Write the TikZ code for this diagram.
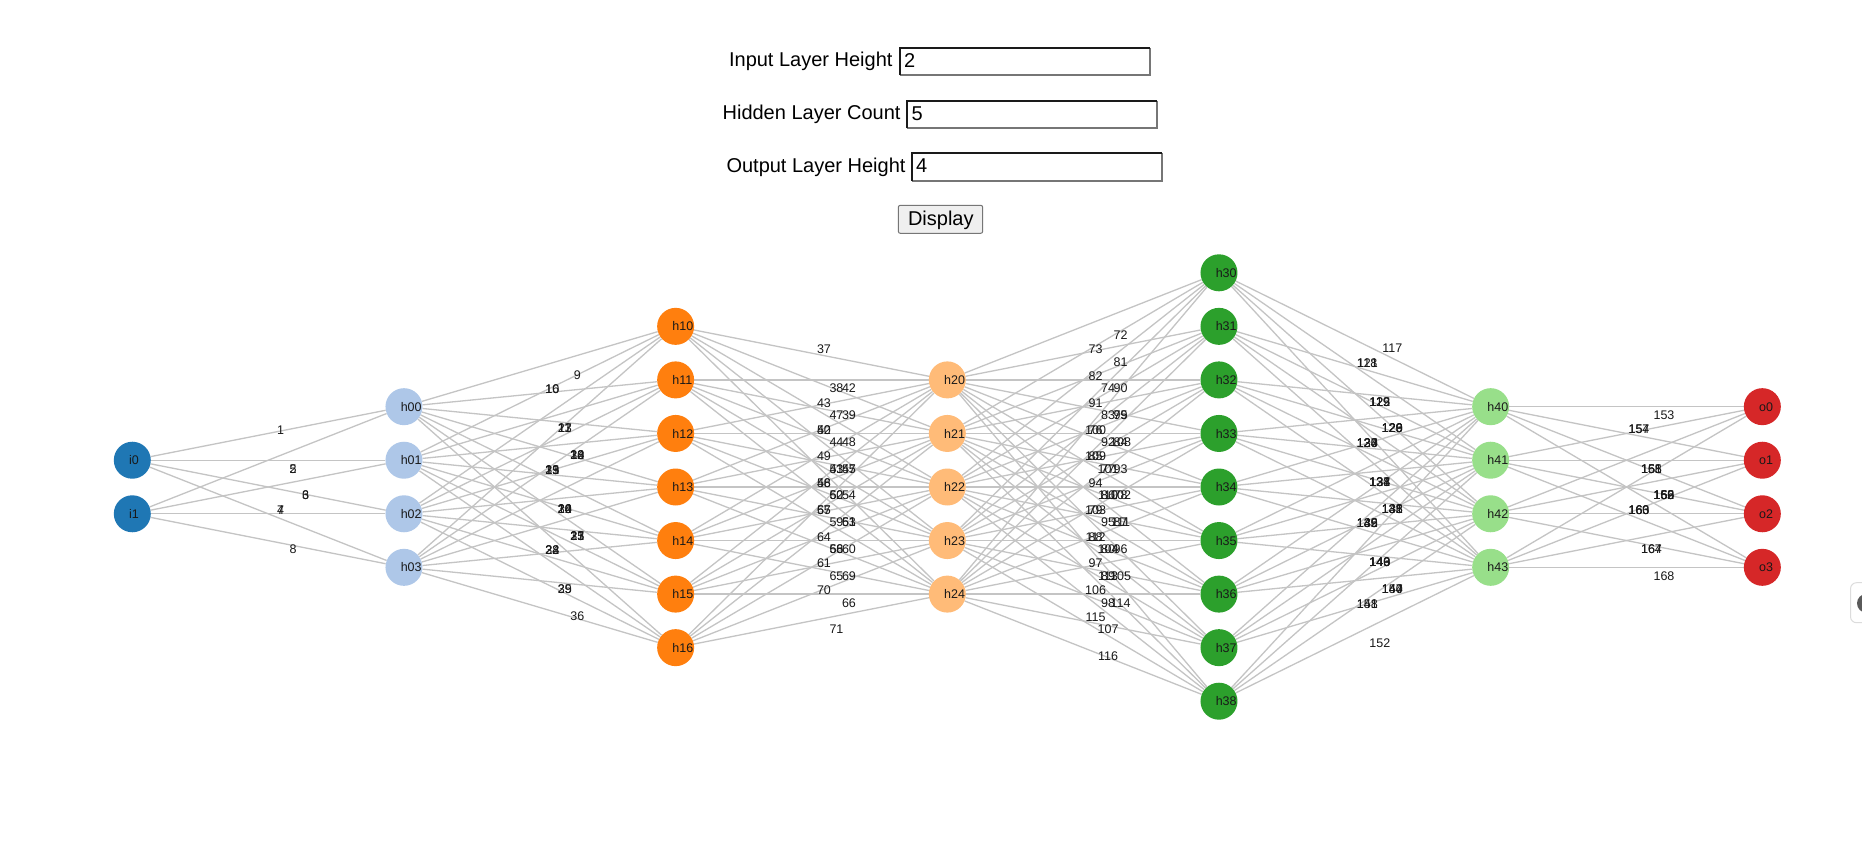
\documentclass[tikz,border=0pt]{standalone}
\usepackage{fontspec}
\setmainfont{Liberation Sans}
\usetikzlibrary{calc}
\pgfdeclarelayer{bglayer}
\pgfdeclarelayer{edgelayer}
\pgfdeclarelayer{labellayer}
\pgfsetlayers{bglayer,edgelayer,labellayer,main}
\definecolor{cI}{HTML}{1F77B4}
\definecolor{cHa}{HTML}{AEC7E8}
\definecolor{cHb}{HTML}{FF7F0E}
\definecolor{cHc}{HTML}{FFBB78}
\definecolor{cHd}{HTML}{2CA02C}
\definecolor{cHe}{HTML}{98DF8A}
\definecolor{cO}{HTML}{D62728}
\definecolor{edgegray}{HTML}{C4C4C4}
\definecolor{darkborder}{HTML}{1A1A1A}
\definecolor{lightborder}{HTML}{767676}
\definecolor{btnfill}{HTML}{EFEFEF}
\definecolor{widgetborder}{HTML}{DCDCDC}
\definecolor{widgetdot}{HTML}{5A5A5A}
\newcount\edgeidx
\tikzset{
  neuron/.style={circle, inner sep=0pt, minimum size=37pt, fill=#1, draw=none},
  nlabel/.style={anchor=base west, inner sep=0pt, font=\fontsize{12.5}{14}\selectfont, text=black!90},
  elabel/.style={anchor=center, inner sep=0pt, font=\fontsize{12.5}{14}\selectfont, text=black!90},
  link/.style={draw=edgegray, line width=1.3pt},
  uitext/.style={inner sep=0pt, font=\fontsize{20}{24}\selectfont, text=black},
  inbox/.style={fill=white, draw=none, inner sep=0pt, minimum width=251.4pt, minimum height=28.7pt},
}
\begin{document}
\begin{tikzpicture}[x=1pt,y=-1pt]
\useasboundingbox (0,0) rectangle (1862,861);
\begin{pgfonlayer}{bglayer}
  \fill[white] (0,0) rectangle (1862,861);
\end{pgfonlayer}

% ---------- form ----------
\node[uitext, anchor=base east] (lab1) at (892.7,66.7) {Input Layer Height};
\node[inbox] (box1) at (1025,61.65) {};
\draw[lightborder, line width=2pt] (box1.south west) ++(1,-1) coordinate (b1sw) -- ($(box1.south east)+(-1,-1)$) -- ($(box1.north east)+(-1,1)$);
\draw[darkborder, line width=2pt] (b1sw) -- ($(box1.north west)+(1,1)$) -- ($(box1.north east)+(-1,1)$);
\node[uitext, anchor=base west] (val1) at (904,67.7) {2};

\node[uitext, anchor=base east] (lab2) at (900.7,120) {Hidden Layer Count};
\node[inbox] (box2) at (1032,114.7) {};
\draw[lightborder, line width=2pt] (box2.south west) ++(1,-1) coordinate (b2sw) -- ($(box2.south east)+(-1,-1)$) -- ($(box2.north east)+(-1,1)$);
\draw[darkborder, line width=2pt] (b2sw) -- ($(box2.north west)+(1,1)$) -- ($(box2.north east)+(-1,1)$);
\node[uitext, anchor=base west] (val2) at (911.5,120.3) {5};

\node[uitext, anchor=base east] (lab3) at (905.7,172.3) {Output Layer Height};
\node[inbox] (box3) at (1037,167) {};
\draw[lightborder, line width=2pt] (box3.south west) ++(1,-1) coordinate (b3sw) -- ($(box3.south east)+(-1,-1)$) -- ($(box3.north east)+(-1,1)$);
\draw[darkborder, line width=2pt] (b3sw) -- ($(box3.north west)+(1,1)$) -- ($(box3.north east)+(-1,1)$);
\node[uitext, anchor=base west] (val3) at (916,172.7) {4};

\node[draw=lightborder, fill=btnfill, rounded corners=2pt, line width=1pt, minimum width=84.4pt, minimum height=28pt, inner sep=0pt] (btn) at (940.5,219.3) {};
\node[uitext, anchor=base] (btntext) at (940.8,225.5) {Display};

% ---------- neurons ----------
\foreach \k/\nm/\n/\col in {0/i/2/cI,1/h0/4/cHa,2/h1/7/cHb,3/h2/5/cHc,4/h3/9/cHd,5/h4/4/cHe,6/o/4/cO}{
  \pgfmathsetmacro\xx{132.3+271.67*\k}
  \pgfmathtruncatemacro\nmax{\n-1}
  \foreach \j in {0,...,\nmax}{
    \pgfmathsetmacro\yy{487+53.55*(\j-(\n-1)/2)}
    \node[neuron=\col] (\nm\j) at (\xx,\yy) {};
    \node[nlabel] (t\nm\j) at (\xx-3.4,\yy+4.6) {\nm\j};
  }
}

% ---------- links and their labels ----------
\global\edgeidx=0
\foreach \srcname/\srccount/\dstname/\dstcount in {i/2/h0/4, h0/4/h1/7, h1/7/h2/5, h2/5/h3/9, h3/9/h4/4, h4/4/o/4}{
  \pgfmathtruncatemacro\amax{\srccount-1}
  \pgfmathtruncatemacro\bmax{\dstcount-1}
  \foreach \a in {0,...,\amax}{
    \foreach \b in {0,...,\bmax}{
      \global\advance\edgeidx by 1
      \pgfmathtruncatemacro\ltype{mod(\the\edgeidx-1,3)+1}
      \pgfmathsetmacro\ldx{12.5*\ltype}
      \pgfmathsetmacro\ldy{ifthenelse(\ltype==1,-3.7,8.6)}
      \begin{pgfonlayer}{edgelayer}
        \draw[link] (\srcname\a) -- (\dstname\b);
      \end{pgfonlayer}
      \begin{pgfonlayer}{labellayer}
        \node[elabel] (e\the\edgeidx) at ($(\srcname\a)!0.5!(\dstname\b)+(\ldx,\ldy)$) {\the\edgeidx};
      \end{pgfonlayer}
    }
  }
}

% ---------- widget at the right edge ----------
\begin{scope}
  \clip (0,0) rectangle (1862,861);
  \draw[widgetborder, fill=white, line width=1pt, rounded corners=6pt] (1850.5,582.7) rectangle (1885,622.7);
  \fill[widgetdot] (1866.5,603.3) circle (9.5pt);
\end{scope}
\end{tikzpicture}
\end{document}
